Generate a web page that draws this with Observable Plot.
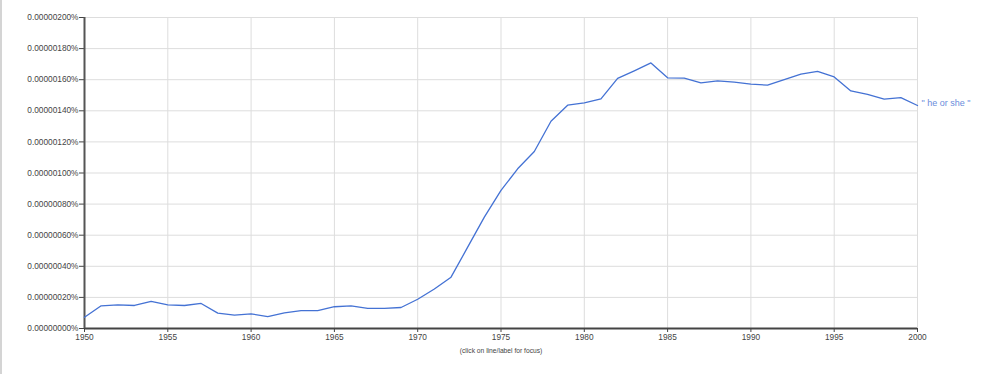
<!DOCTYPE html>
<html>
<head>
<meta charset="utf-8">
<script src="https://cdn.jsdelivr.net/npm/d3@7"></script>
<script src="https://cdn.jsdelivr.net/npm/@observablehq/plot@0.6"></script>
<style>
  html, body { margin: 0; padding: 0; background: #fff; }
  #wrap { position: relative; width: 984px; height: 374px; overflow: hidden; }
  #edge { position: absolute; left: 0; top: 0; width: 2px; height: 374px; background: #d4d4d4; }
</style>
</head>
<body>
<div id="wrap"><div id="edge"></div></div>
<script>
const years = [1950,1951,1952,1953,1954,1955,1956,1957,1958,1959,
               1960,1961,1962,1963,1964,1965,1966,1967,1968,1969,
               1970,1971,1972,1973,1974,1975,1976,1977,1978,1979,
               1980,1981,1982,1983,1984,1985,1986,1987,1988,1989,
               1990,1991,1992,1993,1994,1995,1996,1997,1998,1999,2000];
// frequency in percent
const heOrShe = [7.2e-8,14.6e-8,15.2e-8,14.8e-8,17.4e-8,15.2e-8,14.8e-8,16.1e-8,9.9e-8,8.6e-8,
                 9.4e-8,7.7e-8,10.1e-8,11.5e-8,11.5e-8,14.0e-8,14.6e-8,13.0e-8,13.0e-8,13.5e-8,
                 18.8e-8,25.4e-8,33.0e-8,52.3e-8,71.6e-8,88.8e-8,102.7e-8,113.8e-8,133.3e-8,143.6e-8,
                 145.1e-8,147.7e-8,160.8e-8,165.7e-8,170.8e-8,161.2e-8,161.0e-8,158.0e-8,159.2e-8,158.4e-8,
                 157.1e-8,156.5e-8,160.1e-8,163.6e-8,165.3e-8,161.8e-8,152.8e-8,150.5e-8,147.5e-8,148.5e-8,143.4e-8];
const seriesLabel = "\" he or she \"";
const xTicks = [1950,1955,1960,1965,1970,1975,1980,1985,1990,1995,2000];
const yTicks = [0,2e-7,4e-7,6e-7,8e-7,10e-7,12e-7,14e-7,16e-7,18e-7,20e-7];
const caption = "(click on line/label for focus)";

const data = years.map((y, i) => ({year: y, value: heOrShe[i]}));
const fmt = d3.format(".8f");

const chart = Plot.plot({
  width: 984,
  height: 374,
  marginTop: 17,
  marginBottom: 46,
  marginLeft: 84,
  marginRight: 67,
  style: {fontFamily: "'Liberation Sans', Arial, sans-serif", fontSize: "8.3px", color: "#444", background: "transparent", overflow: "visible"},
  x: {domain: [1950, 2000]},
  y: {domain: [0, 2e-6]},
  marks: [
    Plot.gridX(xTicks, {stroke: "#dddddd", strokeOpacity: 1}),
    Plot.gridY(yTicks, {stroke: "#dddddd", strokeOpacity: 1}),
    Plot.axisY({ticks: yTicks, tickFormat: d => fmt(d) + "%", tickSize: 5, tickPadding: 1, label: null, stroke: "#444", fill: "#444"}),
    Plot.axisX({ticks: xTicks, tickFormat: d => String(d), tickSize: 4, tickPadding: 2, label: null, stroke: "#444", fill: "#444"}),
    Plot.ruleY([0], {stroke: "#444", strokeWidth: 2}),
    Plot.ruleX([1950], {stroke: "#555", strokeWidth: 2}),
    Plot.line(data, {x: "year", y: "value", stroke: "#4472d4", strokeWidth: 1.3}),
    Plot.text(data.slice(-1), {x: "year", y: "value", text: () => seriesLabel, textAnchor: "start", dx: 4, dy: -2, fill: "#6a8ddc", fontSize: 9}),
    Plot.text([caption], {frameAnchor: "bottom", dy: 24, text: d => d, fontSize: 6.7, fill: "#444"})
  ]
});
document.getElementById("wrap").appendChild(chart);
</script>
</body>
</html>
